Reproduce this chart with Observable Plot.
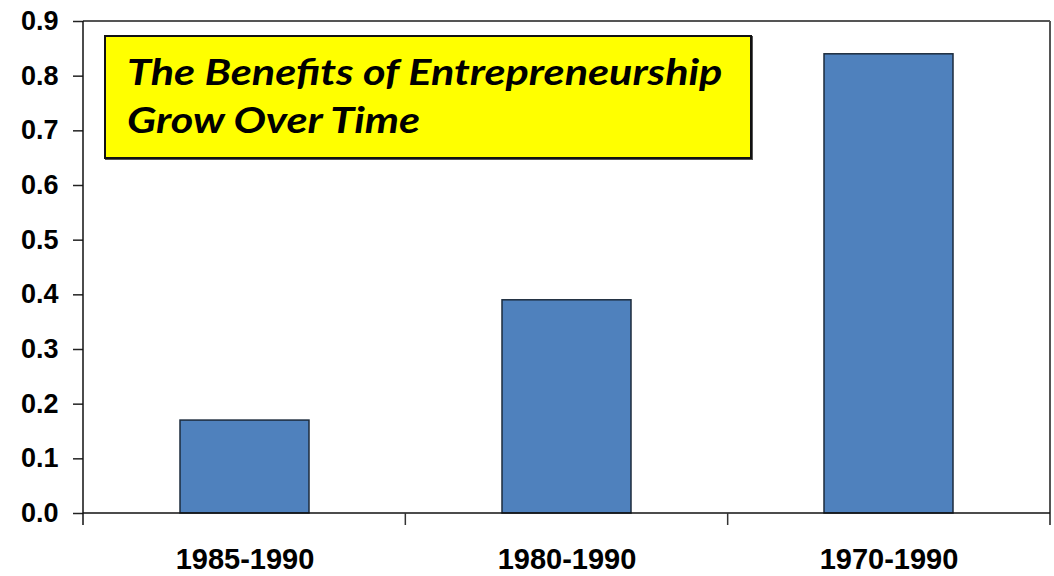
<!DOCTYPE html>
<html>
<head>
<meta charset="utf-8">
<script src="https://cdn.jsdelivr.net/npm/d3@7"></script>
<script src="https://cdn.jsdelivr.net/npm/@observablehq/plot@0.6"></script>
<style>
  html, body { margin: 0; padding: 0; background: #fff; }
  #wrap { position: relative; width: 1054px; height: 576px; }
  #title {
    position: absolute; left: 104px; top: 35px; width: 648px; height: 124px;
    box-sizing: border-box; border: 2px solid #111; background: #ffff00;
    box-shadow: 1px 1px 0 #555;
    font-family: Lato, "Open Sans", sans-serif; font-weight: bold; font-style: italic;
    font-size: 36px; line-height: 48px; color: #000; padding: 10px 0 0 21px;
  }
  #title span { display: block; transform: scaleX(1.2); transform-origin: left center; white-space: nowrap; }
</style>
</head>
<body>
<div id="wrap">
  <div id="chart"></div>
  <div id="title"><span>The Benefits of Entrepreneurship</span><span>Grow Over Time</span></div>
</div>
<script>
const categories = ["1985-1990", "1980-1990", "1970-1990"];
const values = [0.17, 0.39, 0.84];
const yTicks = [0, 0.1, 0.2, 0.3, 0.4, 0.5, 0.6, 0.7, 0.8, 0.9];

const data = categories.map((c, i) => ({category: c, value: values[i]}));

const frameMarks = (index, scales, vals, dims) => {
  const {width, height, marginLeft, marginRight, marginTop, marginBottom} = dims;
  const g = d3.create("svg:g");
  const x0 = marginLeft, x1 = width - marginRight;
  const yTop = marginTop, yBase = height - marginBottom;
  const n = categories.length;
  const step = (x1 - x0) / n;
  g.append("line").attr("x1", x0).attr("x2", x1).attr("y1", yTop).attr("y2", yTop)
    .attr("stroke", "#555").attr("stroke-width", 2);
  g.append("line").attr("x1", x1).attr("x2", x1).attr("y1", yTop).attr("y2", yBase + 12)
    .attr("stroke", "#555").attr("stroke-width", 2);
  g.append("line").attr("x1", x0).attr("x2", x0).attr("y1", yTop).attr("y2", yBase + 12)
    .attr("stroke", "#111").attr("stroke-width", 1.5);
  g.append("line").attr("x1", x0).attr("x2", x1).attr("y1", yBase).attr("y2", yBase)
    .attr("stroke", "#111").attr("stroke-width", 1.5);
  for (let i = 1; i < n; i++) {
    const x = x0 + step * i;
    g.append("line").attr("x1", x).attr("x2", x).attr("y1", yBase).attr("y2", yBase + 12)
      .attr("stroke", "#333").attr("stroke-width", 1.5);
  }
  return g.node();
};

const plot = Plot.plot({
  width: 1054,
  height: 576,
  marginLeft: 83,
  marginRight: 4,
  marginTop: 21,
  marginBottom: 63,
  style: {fontFamily: "'Liberation Sans', Arial, sans-serif", background: "#fff", color: "#000"},
  x: {domain: categories, paddingInner: 0.6, paddingOuter: 0.3, label: null},
  y: {domain: [0, 0.9], label: null},
  marks: [
    Plot.barY(data, {x: "category", y: "value", fill: "#4f81bd", stroke: "#1c2b3c", strokeWidth: 1.5}),
    Plot.axisY({ticks: yTicks, tickFormat: d3.format(".1f"), tickSize: 10, tickPadding: 15,
      fontSize: 27, fontWeight: "bold", stroke: "#222", strokeWidth: 1.5, label: null}),
    Plot.axisX({tickSize: 0, tickPadding: 35, fontSize: 29, fontWeight: "bold", label: null}),
    frameMarks
  ]
});
document.getElementById("chart").appendChild(plot);
</script>
</body>
</html>
